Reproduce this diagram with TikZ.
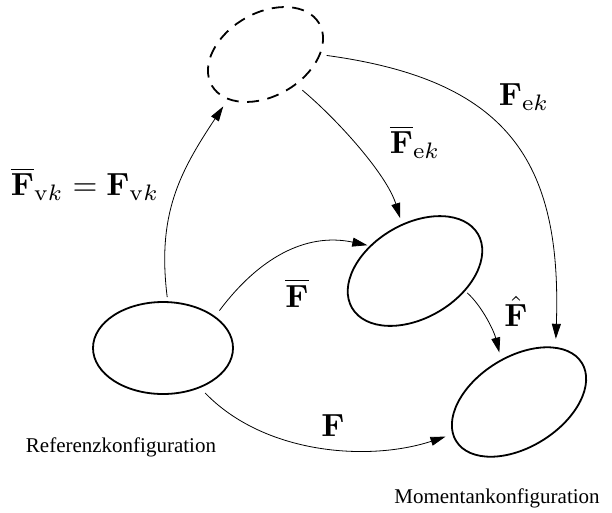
\documentclass[tikz,border=0pt]{standalone}
\usepackage[no-math]{fontspec}
\setmainfont{Liberation Serif}
\usetikzlibrary{arrows.meta,shapes.geometric}
\begin{document}
\begin{tikzpicture}[x=1pt,y=1pt,
  conf/.style={draw, ellipse, line width=1.8pt, inner sep=0pt, outer sep=0pt},
  conn/.style={line width=0.8pt, -{Triangle[length=15pt,width=9pt]}},
  lab/.style={font=\fontsize{10}{12}\selectfont, inner sep=0pt, scale=3.2},
  txt/.style={font=\fontsize{21}{25}\selectfont, inner sep=0pt}]
\useasboundingbox (0,0) rectangle (612,-512);

\node[conf, minimum width=140pt, minimum height=92pt] (ref) at (163,-348) {};
\node[conf, dash pattern=on 12pt off 8.5pt, minimum width=124pt, minimum height=83pt, rotate=30] (dash) at (265.5,-54.5) {};
\node[conf, minimum width=146pt, minimum height=94pt, rotate=30.5] (mid) at (415,-271) {};
\node[conf, minimum width=148pt, minimum height=90pt, rotate=32] (mom) at (519,-402) {};

\draw[conn, shorten <=5pt, shorten >=9pt] (ref.84) .. controls (157,-215) and (179,-173) .. (dash.200);
\draw[conn, shorten <=8pt, shorten >=3.5pt] (ref.31) .. controls (258,-259) and (305,-232) .. (mid.120);
\draw[conn, shorten <=8pt, shorten >=8pt] (ref.-47) .. controls (264,-454) and (368,-462) .. (mom.174);
\draw[conn, shorten <=9pt, shorten >=7pt] (dash.-75) .. controls (338,-120) and (387,-175) .. (mid.75);
\draw[conn, shorten <=7pt, shorten >=9pt] (dash.-30) .. controls (507,-80) and (562,-160) .. (mom.24);
\draw[conn, shorten <=3.5pt, shorten >=8pt] (mid.-52) .. controls (482,-306) and (494,-331) .. (mom.81);

\node[lab] (lvk) at (85,-184) {$\overline{\mathbf{F}}_{\mathrm{v}k}=\mathbf{F}_{\mathrm{v}k}$};
\node[lab] (lFb) at (297,-293) {$\overline{\mathbf{F}}$};
\node[lab] (lF) at (333,-426) {$\mathbf{F}$};
\node[lab] (lFbek) at (415,-142) {$\overline{\mathbf{F}}_{\mathrm{e}k}$};
\node[lab] (lFek) at (524,-97) {$\mathbf{F}_{\mathrm{e}k}$};
\node[lab] (lFh) at (516,-311) {$\hat{\mathbf{F}}$};
\node[txt] (tref) at (121,-447) {Referenzkonfiguration};
\node[txt] (tmom) at (497,-498) {Momentankonfiguration};
\end{tikzpicture}
\end{document}
